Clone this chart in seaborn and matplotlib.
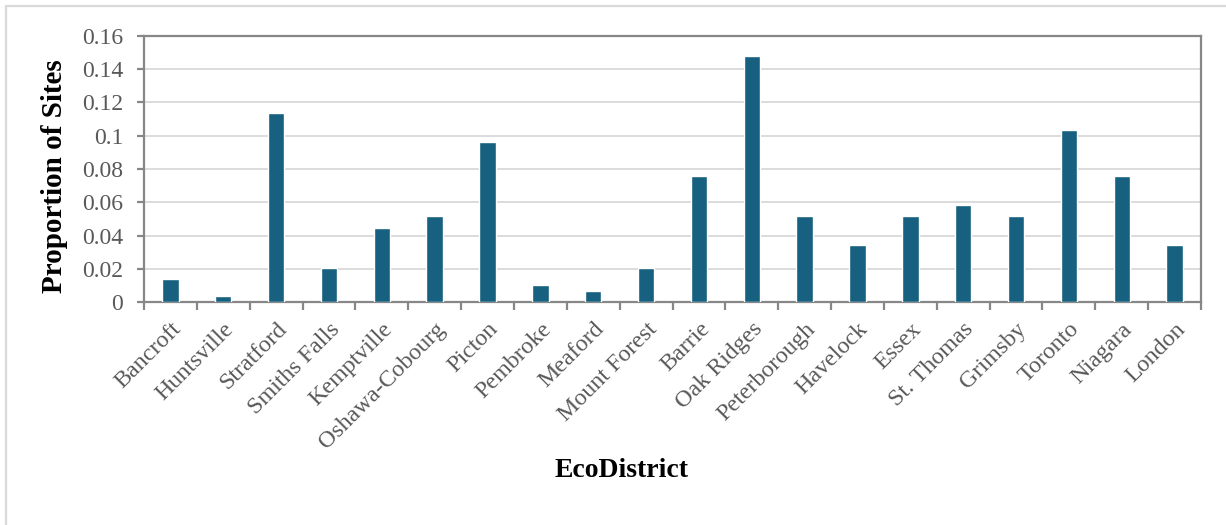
import matplotlib
matplotlib.use("Agg")
import matplotlib.pyplot as plt
from matplotlib.lines import Line2D
from matplotlib.ticker import FixedLocator, FuncFormatter
from matplotlib.transforms import ScaledTranslation
import seaborn as sns
import pandas as pd
import numpy as np

# Share of sites per EcoDistrict
districts = ["Bancroft", "Huntsville", "Stratford", "Smiths Falls", "Kemptville",
             "Oshawa-Cobourg", "Picton", "Pembroke", "Meaford", "Mount Forest",
             "Barrie", "Oak Ridges", "Peterborough", "Havelock", "Essex",
             "St. Thomas", "Grimsby", "Toronto", "Niagara", "London"]
proportions = [0.0137, 0.0034, 0.1136, 0.0206, 0.0447,
               0.0515, 0.0964, 0.0103, 0.0069, 0.0206,
               0.0756, 0.1482, 0.0515, 0.0344, 0.0515,
               0.0584, 0.0515, 0.1033, 0.0756, 0.0344]
y_ticks = [0, 0.02, 0.04, 0.06, 0.08, 0.10, 0.12, 0.14, 0.16]

df = pd.DataFrame({"EcoDistrict": districts, "Proportion": proportions})

sns.set_theme(style="white")
plt.rcParams["font.family"] = ["Liberation Serif", "DejaVu Serif"]

W, H = 1226, 525
fig = plt.figure(figsize=(W / 100, H / 100), dpi=100)
ax = fig.add_axes([144 / W, 1 - 302 / H, (1201 - 144) / W, (302 - 36) / H])

bar_color = "#17607f"
sns.barplot(data=df, x="EcoDistrict", y="Proportion", color=bar_color,
            width=0.31, saturation=1, ax=ax, zorder=3)

spine_color = "#878787"
grid_color = "#d9d9d9"
text_gray = "#595959"

ax.set_xlim(-0.5, len(districts) - 0.5)
ax.set_ylim(0, 0.16)
ax.yaxis.set_major_locator(FixedLocator(y_ticks))
ax.yaxis.set_major_formatter(FuncFormatter(lambda v, p: f"{v:g}"))
ax.yaxis.grid(True, color=grid_color, linewidth=1.3, zorder=0)
ax.set_axisbelow(True)

for s in ax.spines.values():
    s.set_visible(True)
    s.set_color(spine_color)
    s.set_linewidth(1.6)

# tick marks sit between categories; labels sit under the bars
ax.set_xticks(np.arange(len(districts)))
ax.set_xticklabels(districts, rotation=45, ha="right", rotation_mode="anchor",
                   fontsize=17.3, color=text_gray)
shift = ScaledTranslation(-3 / 100, 0, fig.dpi_scale_trans)
for lbl in ax.get_xticklabels():
    lbl.set_transform(lbl.get_transform() + shift)
ax.set_xticks(np.arange(-0.5, len(districts), 1.0), minor=True)
ax.tick_params(axis="x", which="major", length=0, pad=12)
ax.tick_params(axis="x", which="minor", bottom=True, length=5.5, width=1.6,
               color=spine_color, direction="out")
ax.tick_params(axis="y", which="major", left=True, length=5, width=1.6,
               color=spine_color, direction="out", labelsize=17,
               labelcolor=text_gray, pad=10)

ax.set_ylabel("Proportion of Sites", fontsize=21, fontweight="bold",
              color="black")
ax.yaxis.set_label_coords(-0.072, 0.475)
ax.set_xlabel("EcoDistrict", fontsize=20, fontweight="bold", color="black")
ax.xaxis.set_label_coords((622 - 144) / (1201 - 144), -(458 - 302) / (302 - 36))

# light outer frame
frame_color = "#d9d9d9"
fig.add_artist(Line2D([6 / W, 1], [1 - 6 / H, 1 - 6 / H], color=frame_color,
                      linewidth=1.6, transform=fig.transFigure))
fig.add_artist(Line2D([6 / W, 6 / W], [0, 1 - 6 / H], color=frame_color,
                      linewidth=1.6, transform=fig.transFigure))

fig.savefig("out.png", dpi=100, facecolor="white")
